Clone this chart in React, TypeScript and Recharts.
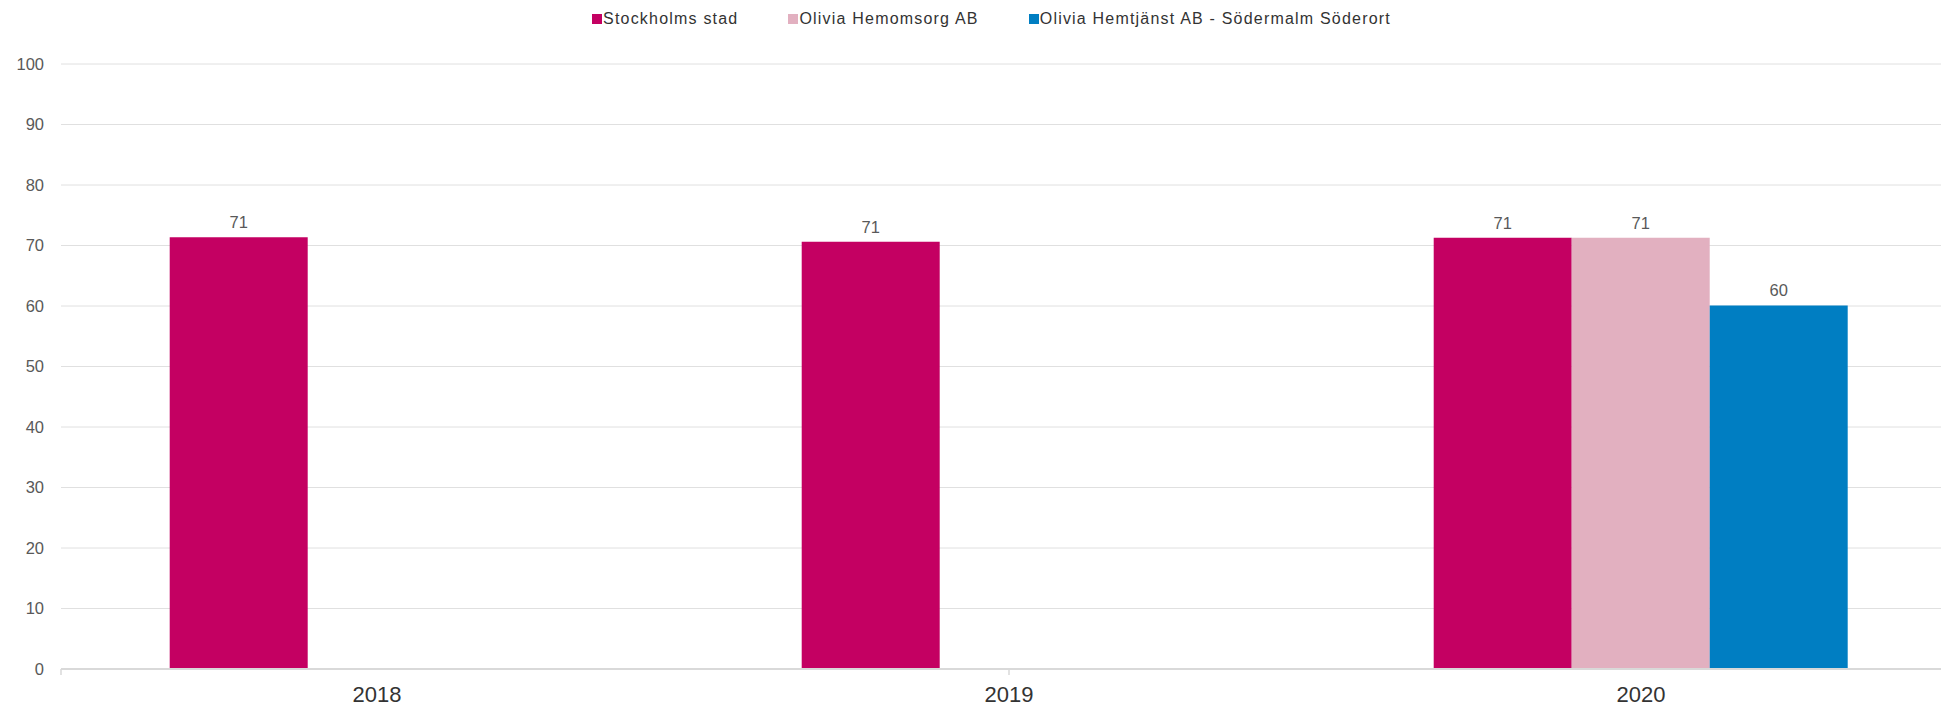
import React from 'react';
import { BarChart, Bar, XAxis, YAxis, CartesianGrid, Legend, LabelList } from 'recharts';

// categories and series values
const years = ['2018', '2019', '2020'];
const stockholmsStad = [71.35, 70.6, 71.3];
const oliviaHemomsorg: (number | null)[] = [null, null, 71.3];
const oliviaSodermalm: (number | null)[] = [null, null, 60.1];
const yTicks = [0, 10, 20, 30, 40, 50, 60, 70, 80, 90, 100];
const boundaryTicks = [0, 1, 2, 3];

const SERIES = [
  { key: 'stockholm', name: 'Stockholms stad', color: '#C40062' },
  { key: 'hemomsorg', name: 'Olivia Hemomsorg AB', color: '#E2B0C0' },
  { key: 'sodermalm', name: 'Olivia Hemtjänst AB - Södermalm Söderort', color: '#007EC2' },
];

const data = years.map((year, i) => ({
  year,
  stockholm: stockholmsStad[i],
  hemomsorg: oliviaHemomsorg[i],
  sodermalm: oliviaSodermalm[i],
}));

const FONT = '"Liberation Sans", Arial, sans-serif';

// legend: small squares + spaced-out text, centered above the plot
const renderLegend = () => (
  <div
    style={{
      height: 40,
      display: 'flex',
      justifyContent: 'center',
      alignItems: 'center',
      paddingBottom: 2,
      boxSizing: 'border-box',
      fontFamily: FONT,
      fontSize: 16,
      letterSpacing: 1.2,
      color: '#333333',
    }}
  >
    {SERIES.map((s, i) => (
      <div
        key={s.key}
        style={{ display: 'flex', alignItems: 'center', marginLeft: i === 0 ? 0 : 50, whiteSpace: 'nowrap' }}
      >
        <span style={{ width: 10, height: 10, background: s.color, display: 'inline-block', marginRight: 1 }} />
        <span>{s.name}</span>
      </div>
    ))}
  </div>
);

const App: React.FC = () => {
  return (
    <div style={{ position: 'absolute', left: 0, top: 0, width: 1941, height: 706, overflow: 'hidden', background: '#fff' }}>
      <BarChart
        width={1957}
        height={706}
        data={data}
        margin={{ top: 24, right: 0, left: 0, bottom: 0 }}
        barCategoryGap="17.2%"
        barGap={0}
      >
        <CartesianGrid xAxisId="b" vertical={false} stroke="#e0e0e0" />
        {/* tick marks between the categories, right on the baseline */}
        <XAxis
          xAxisId="a"
          type="number"
          domain={[0, 3]}
          allowDataOverflow
          ticks={boundaryTicks}
          interval={0}
          height={6}
          tickSize={6}
          tickLine={{ stroke: '#d9d9d9', strokeWidth: 1.5 }}
          axisLine={{ stroke: '#d9d9d9', strokeWidth: 2 }}
          tickFormatter={() => ''}
        />
        <XAxis
          xAxisId="b"
          dataKey="year"
          height={31}
          axisLine={false}
          tickLine={false}
          tickSize={0}
          tickMargin={11}
          tick={{ fontSize: 22, fill: '#333333', fontFamily: FONT }}
        />
        <YAxis
          width={61}
          domain={[0, 100]}
          ticks={yTicks}
          axisLine={false}
          tickLine={false}
          tickSize={0}
          tickMargin={17}
          tick={{ fontSize: 16.5, fill: '#595959', fontFamily: FONT }}
        />
        <Legend verticalAlign="top" content={renderLegend} wrapperStyle={{ top: 0, left: 0, width: 1983 }} />
        {SERIES.map((s) => (
          <Bar key={s.key} xAxisId="b" dataKey={s.key} name={s.name} fill={s.color} isAnimationActive={false}>
            <LabelList
              dataKey={s.key}
              position="top"
              offset={9}
              formatter={(v: any) => (v == null ? '' : Math.round(v))}
              style={{ fontSize: 16.5, fill: '#595959', fontFamily: FONT }}
            />
          </Bar>
        ))}
      </BarChart>
    </div>
  );
};

export default App;
